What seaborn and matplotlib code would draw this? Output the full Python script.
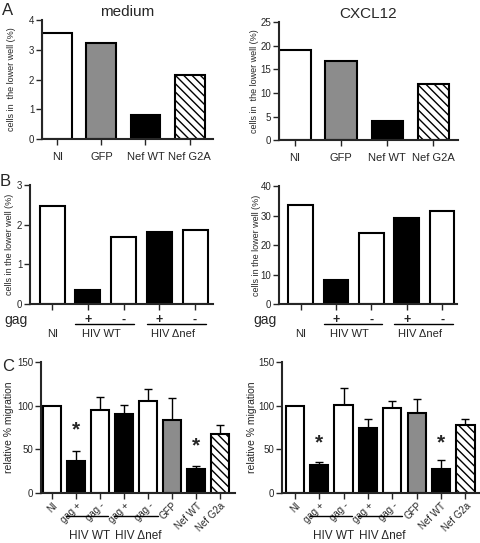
import numpy as np
import pandas as pd
import seaborn as sns
import matplotlib.pyplot as plt

# ---- data ----
a_labels = ["NI", "GFP", "Nef WT", "Nef G2A"]
a_medium = [3.55, 3.22, 0.80, 2.15]
a_cxcl12 = [19.2, 16.8, 4.0, 11.9]

b_keys = ["NI", "WT gag+", "WT gag-", "dnef gag+", "dnef gag-"]
b_gag = ["", "+", "-", "+", "-"]
b_medium = [2.47, 0.35, 1.70, 1.82, 1.88]
b_cxcl12 = [33.5, 8.3, 24.0, 29.3, 31.7]

c_keys = ["NI", "WT gag+", "WT gag-", "dnef gag+", "dnef gag-", "GFP", "Nef WT", "Nef G2a"]
c_labels = ["NI", "gag +", "gag -", "gag +", "gag -", "GFP", "Nef WT", "Nef G2a"]
c_medium = [100, 37, 95, 91, 105, 84, 28, 68]
c_medium_err = [0, 11, 15, 10, 14, 25, 3, 10]
c_cxcl12 = [100, 32, 101, 74, 98, 92, 27, 78]
c_cxcl12_err = [0, 4, 19, 11, 8, 16, 11, 7]
c_star_medium = {1: 72, 6: 54}
c_star_cxcl12 = {1: 57, 6: 58}

a_fill = ["white", "#8c8c8c", "black", "white"]
b_fill = ["white", "black", "white", "black", "white"]
c_fill = ["white", "black", "white", "black", "white", "#8c8c8c", "black", "white"]
a_hatch = [None, None, None, "\\\\\\\\"]
c_hatch = [None] * 7 + ["\\\\\\\\"]

sns.set_theme(style="ticks")
plt.rcParams["font.family"] = ["Liberation Sans", "DejaVu Sans"]
plt.rcParams["hatch.linewidth"] = 1.0

fig = plt.figure(figsize=(4.8, 5.43), dpi=100)


def bars(ax, keys, vals, fills, width, hatches=None):
    df = pd.DataFrame({"k": keys, "v": vals})
    sns.barplot(data=df, x="k", y="v", hue="k", palette=dict(zip(keys, fills)),
                order=keys, legend=False, width=width, edgecolor="black",
                linewidth=1.5, errorbar=None, saturation=1, ax=ax)
    if hatches:
        for p, h in zip(ax.patches, hatches):
            if h:
                p.set_hatch(h)
    for s in ["top", "right"]:
        ax.spines[s].set_visible(False)
    for s in ["left", "bottom"]:
        ax.spines[s].set_linewidth(1.5)
    ax.tick_params(direction="out", length=4, width=1, labelsize=7, pad=1.5)
    ax.set_xlabel("")


def ylab(ax, text, xpos, size=6.5):
    ax.set_ylabel(text, fontsize=size)
    ax.yaxis.set_label_coords(xpos, 0.5)


# ---- panel A ----
for rect, vals, top, step, title, lx in [
        ([0.0875, 0.744, 0.356, 0.219], a_medium, 4, 1, "medium", -0.152),
        ([0.581, 0.742, 0.373, 0.217], a_cxcl12, 25, 5, "CXCL12", -0.112)]:
    ax = fig.add_axes(rect)
    bars(ax, a_labels, vals, a_fill, 0.68, a_hatch)
    ax.set_xlim(-0.35, 3.53)
    ax.set_ylim(0, top)
    ax.set_yticks(np.arange(0, top + 1, step))
    ax.set_xticks(range(4))
    ax.set_xticklabels(a_labels, fontsize=8)
    ax.tick_params(axis="x", pad=5)
    ylab(ax, "cells in  the lower well (%)", lx)
    ax.set_title(title, fontsize=11, pad=3)

# ---- panel B ----
for rect, vals, top, step, xr, lx in [
        ([0.0625, 0.440, 0.381, 0.219], b_medium, 3, 1, 4.5, -0.087),
        ([0.581, 0.440, 0.371, 0.217], b_cxcl12, 40, 10, 4.42, -0.10)]:
    ax = fig.add_axes(rect)
    bars(ax, b_keys, vals, b_fill, 0.7)
    ax.set_xlim(-0.62, xr)
    ax.set_ylim(0, top)
    ax.set_yticks(np.arange(0, top + 1, step))
    ax.set_xticks(range(5))
    ax.set_xticklabels(b_gag, fontsize=9, fontweight="bold")
    ax.tick_params(axis="x", pad=3)
    ylab(ax, "cells in the lower well (%)", lx)
    tr = ax.get_xaxis_transform()
    ax.text(-0.012, -0.075, "gag", transform=ax.transAxes, ha="right", va="top", fontsize=10)
    ax.text(0, -0.21, "NI", transform=tr, ha="center", va="top", fontsize=8)
    for x0, x1, lab in [(0.65, 2.3, "HIV WT"), (2.65, 4.3, "HIV \u0394nef")]:
        ax.plot([x0, x1], [-0.17, -0.17], transform=tr, color="black", lw=1, clip_on=False)
        ax.text((x0 + x1) / 2 - 0.1, -0.21, lab, transform=tr, ha="center", va="top", fontsize=8)

# ---- panel C ----
for rect, vals, err, stars, xl, lx in [
        ([0.085, 0.092, 0.404, 0.241], c_medium, c_medium_err, c_star_medium, -0.46, -0.14),
        ([0.5875, 0.092, 0.4125, 0.241], c_cxcl12, c_cxcl12_err, c_star_cxcl12, -0.53, -0.128)]:
    ax = fig.add_axes(rect)
    pos = np.arange(len(c_keys))
    ax.errorbar(pos, vals, yerr=[np.zeros(len(err)), err], fmt="none", ecolor="black",
                elinewidth=1, capsize=3, capthick=1, zorder=0)
    bars(ax, c_keys, vals, c_fill, 0.75, c_hatch)
    ax.set_xlim(xl, 7.6)
    ax.set_ylim(0, 150)
    ax.set_yticks([0, 50, 100, 150])
    ax.set_xticks(pos)
    ax.set_xticklabels(c_labels, fontsize=7, rotation=45, ha="right", rotation_mode="anchor")
    ax.tick_params(axis="y", labelsize=7)
    ylab(ax, "relative % migration", lx, size=7.5)
    for i, y in stars.items():
        ax.text(i, y, "*", ha="center", va="center", fontsize=15, fontweight="bold")
    tr = ax.get_xaxis_transform()
    for x0, x1, lab in [(0.6, 2.35, "HIV WT"), (2.6, 4.4, "HIV \u0394nef")]:
        ax.plot([x0, x1], [-0.176, -0.176], transform=tr, color="black", lw=1, clip_on=False)
        ax.text((x0 + x1) / 2 + 0.1, -0.285, lab, transform=tr, ha="center", va="top", fontsize=8.5)

# panel letters
fig.text(0.005, 0.995, "A", fontsize=12, va="top")
fig.text(0.0, 0.68, "B", fontsize=12, va="top")
fig.text(0.005, 0.338, "C", fontsize=12, va="top")

fig.savefig("out.png", dpi=100)
